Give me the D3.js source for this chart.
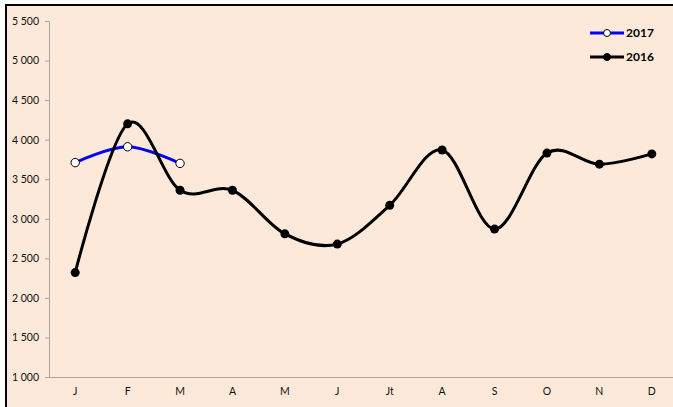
<!DOCTYPE html>
<html><head><meta charset="utf-8">
<script src="https://cdn.jsdelivr.net/npm/d3@7"></script>
<style>html,body{margin:0;padding:0;background:#fff;}svg{display:block;}</style>
</head><body>
<script>
const months = ["J","F","M","A","M","J","Jt","A","S","O","N","D"];
const values2016 = [2320, 4200, 3360, 3360, 2810, 2680, 3170, 3870, 2870, 3830, 3690, 3820];
const values2017 = [3710, 3910, 3700];
const yTicks = [1000,1500,2000,2500,3000,3500,4000,4500,5000,5500];

const W = 673, H = 407;
const svg = d3.select("body").append("svg").attr("width", W).attr("height", H);
const fmt = v => d3.format(",")(v).replace(/,/g, " ");
const font = "Lato, 'Open Sans', sans-serif";

svg.append("rect").attr("x",0).attr("y",0).attr("width",W).attr("height",H).attr("fill","#fff");
svg.append("rect").attr("x",6).attr("y",5).attr("width",W).attr("height",H).attr("fill","#fde9d9");
svg.append("line").attr("x1",6).attr("x2",6).attr("y1",4).attr("y2",H).attr("stroke","#000").attr("stroke-width",2);
svg.append("line").attr("x1",5).attr("x2",W).attr("y1",5).attr("y2",5).attr("stroke","#000").attr("stroke-width",2);

const idx = months.map((m,i)=>i);
const x = d3.scaleBand().domain(idx).range([49, 678]);
const y = d3.scaleLinear().domain([1000,5500]).range([377, 21]);
const cx = i => x(i) + x.bandwidth()/2;

// y axis
const ya = svg.append("g").attr("transform","translate(49,0)")
  .call(d3.axisLeft(y).tickValues(yTicks).tickFormat(fmt).tickSize(4).tickPadding(6));
ya.select(".domain").attr("stroke","#a6a6a6");
ya.selectAll(".tick line").attr("stroke","#a6a6a6");
ya.selectAll("text").attr("font-family",font).attr("font-size","10.5px").attr("fill","#111");

// x axis
const xa = svg.append("g").attr("transform","translate(0,377)")
  .call(d3.axisBottom(x).tickFormat(i=>months[i]).tickSize(0).tickPadding(11));
xa.select(".domain").attr("stroke","#a6a6a6");
xa.selectAll("text").attr("font-family",font).attr("font-size","10.5px").attr("fill","#111");

const line = d3.line().x((d,i)=>cx(i)).y(d=>y(d)).curve(d3.curveCatmullRom.alpha(0));

svg.append("path").datum(values2017).attr("d",line).attr("fill","none").attr("stroke","#0000ff").attr("stroke-width",3);
svg.append("path").datum(values2016).attr("d",line).attr("fill","none").attr("stroke","#000").attr("stroke-width",3);

svg.selectAll(".m16").data(values2016).enter().append("circle")
  .attr("cx",(d,i)=>cx(i)).attr("cy",d=>y(d)).attr("r",4.5).attr("fill","#000");
svg.selectAll(".m17").data(values2017).enter().append("circle")
  .attr("cx",(d,i)=>cx(i)).attr("cy",d=>y(d)).attr("r",4.2).attr("fill","#fff").attr("stroke","#000").attr("stroke-width",1);

// legend
const legend = [{name:"2017", color:"#0000ff", fill:"#fff", y:33},{name:"2016", color:"#000", fill:"#000", y:57}];
legend.forEach(l=>{
  svg.append("line").attr("x1",590).attr("x2",624).attr("y1",l.y).attr("y2",l.y).attr("stroke",l.color).attr("stroke-width",3);
  svg.append("circle").attr("cx",607).attr("cy",l.y).attr("r",3.5).attr("fill",l.fill).attr("stroke","#000").attr("stroke-width",1);
  svg.append("text").attr("x",626).attr("y",l.y+4).text(l.name)
    .attr("font-family",font).attr("font-weight","bold").attr("font-size","12px").attr("fill","#000");
});
</script>
</body></html>
